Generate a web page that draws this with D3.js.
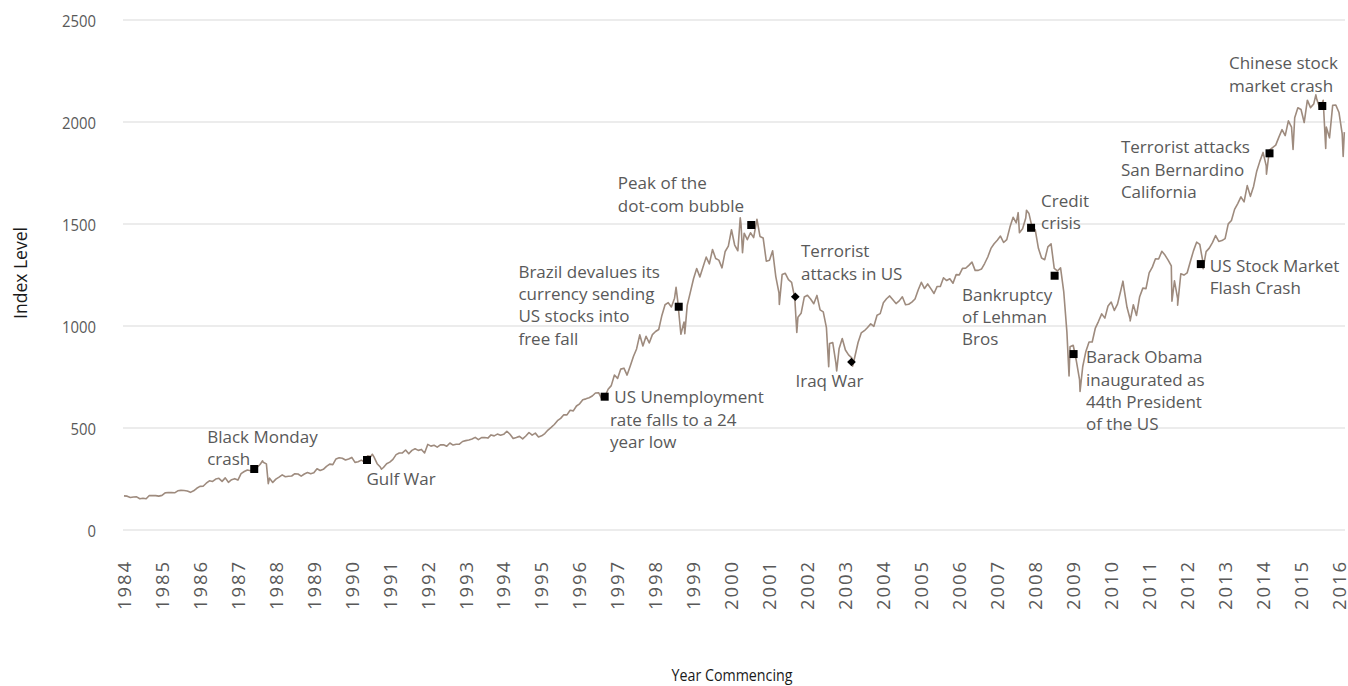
<!DOCTYPE html>
<html><head><meta charset="utf-8">
<script src="https://cdn.jsdelivr.net/npm/d3@7"></script>
<style>
html,body{margin:0;padding:0;background:#fff;}
svg{display:block;}
</style></head><body>
<svg id="chart" width="1348" height="686"></svg>
<script>
// ---------------- DATA ----------------
const startYear = 1984;
const startValue = 164.9;
// Monthly closing index level, Jan 1984 ... Jan 2016 (plotted at month end)
const monthlyClose = [
163.4,157.1,159.2,160.1,150.6,153.2,150.7,166.7,166.1,166.1,163.6,167.2,
179.6,181.2,180.7,179.8,189.6,191.9,190.9,188.6,182.1,189.8,202.2,211.3,
211.8,226.9,238.9,235.5,247.4,250.8,236.1,252.9,231.3,244.0,249.2,242.2,
274.1,284.2,291.7,288.4,290.1,304.0,318.7,329.8,321.8,251.8,230.3,247.1,
257.1,267.8,258.9,261.3,262.2,273.5,272.0,261.5,271.9,279.0,273.7,277.7,
297.5,288.9,294.9,309.6,320.5,318.0,346.1,351.5,349.2,340.4,346.0,353.4,
329.1,331.9,339.9,330.8,361.2,358.0,356.2,322.6,306.1,304.0,322.2,330.2,
343.9,367.1,375.2,375.3,389.8,371.2,387.8,395.4,387.9,392.5,375.2,417.1,
408.8,412.7,403.7,415.0,415.4,408.1,424.2,414.0,417.8,418.7,431.4,435.7,
438.8,443.4,451.7,440.2,450.2,451.0,448.1,463.6,458.9,467.8,461.8,466.5,
481.6,467.1,445.8,450.9,456.5,444.3,458.3,475.5,462.7,472.4,453.7,459.3,
470.4,487.4,500.7,514.7,533.4,544.8,562.1,561.9,584.4,581.5,605.4,615.9,
636.0,640.4,645.5,654.2,669.1,670.6,639.9,652.0,687.3,705.3,757.0,740.7,
786.2,790.8,757.1,801.3,848.3,885.1,954.3,899.5,947.3,914.6,955.4,970.4,
980.3,1049.3,1101.8,1111.8,1090.8,1133.8,1120.7,957.3,1017.0,1098.7,1163.6,1229.2,
1279.6,1238.3,1286.4,1335.2,1301.8,1372.7,1328.7,1320.4,1282.7,1362.9,1388.9,1469.3,
1394.5,1366.4,1498.6,1452.4,1420.6,1454.6,1430.8,1517.7,1436.5,1429.4,1315.2,1320.3,
1366.0,1239.9,1160.3,1249.5,1255.8,1224.4,1211.2,1133.6,1040.9,1059.8,1139.5,1148.1,
1130.2,1106.7,1147.4,1076.9,1067.1,989.8,911.6,916.1,815.3,885.8,936.3,879.8,
855.7,841.2,848.2,916.9,963.6,974.5,990.3,1008.0,996.0,1050.7,1058.2,1111.9,
1131.1,1144.9,1126.2,1107.3,1120.7,1140.8,1101.7,1104.2,1114.6,1130.2,1173.8,1211.9,
1181.3,1203.6,1180.6,1156.9,1191.5,1191.3,1234.2,1220.3,1228.8,1207.0,1249.5,1248.3,
1280.1,1280.7,1294.9,1310.6,1270.1,1270.2,1276.7,1303.8,1335.9,1377.9,1400.6,1418.3,
1438.2,1406.8,1420.9,1482.4,1530.6,1503.4,1455.3,1474.0,1526.8,1549.4,1481.1,1468.4,
1378.6,1330.6,1322.7,1385.6,1400.4,1280.0,1267.4,1282.8,1166.4,968.8,896.2,903.3,
825.9,735.1,797.9,872.8,919.1,919.3,987.5,1020.6,1057.1,1036.2,1095.6,1115.1,
1073.9,1104.5,1169.4,1186.7,1089.4,1030.7,1101.6,1049.3,1141.2,1183.3,1180.6,1257.6,
1286.1,1327.2,1325.8,1363.6,1345.2,1320.6,1292.3,1218.9,1131.4,1253.3,1247.0,1257.6,
1312.4,1365.7,1408.5,1397.9,1310.3,1362.2,1379.3,1406.6,1440.7,1412.2,1416.2,1426.2,
1498.1,1514.7,1569.2,1597.6,1630.7,1606.3,1685.7,1633.0,1681.6,1756.5,1805.8,1848.4,
1782.6,1859.5,1872.3,1884.0,1923.6,1960.2,1930.7,2003.4,1972.3,2018.1,2067.6,2058.9,
1995.0,2104.5,2067.9,2085.5,2107.4,2063.1,2103.8,1972.2,1920.0,2079.4,2080.4,2043.9,
1940.2
];
// Intra-month extremes visible as spikes (decimal year)
const spikeYears  = [1987.65,1987.80,1990.54,1990.78,1998.54,1998.77,2000.23,2000.29,2000.67,2001.26,2001.72,2002.56,2002.77,2003.19,2007.55,2007.77,2008.89,2009.18,2010.31,2010.50,2011.60,2011.75,2012.42,2014.09,2014.79,2015.39,2015.65,2016.11,2016.14];
const spikeValues = [336.8,224.8,368.9,295.5,1186.8,959.4,1527.5,1356.6,1520.8,1103.3,965.8,797.7,776.8,800.7,1553.1,1565.2,752.4,676.5,1217.3,1022.6,1119.5,1099.2,1278.0,1741.9,1862.5,2130.8,1867.6,1829.1,1948.0];

const yTicks = [0, 500, 1000, 1500, 2000, 2500];
const xTickYears = [1984,1985,1986,1987,1988,1989,1990,1991,1992,1993,1994,1995,1996,1997,1998,1999,2000,2001,2002,2003,2004,2005,2006,2007,2008,2009,2010,2011,2012,2013,2014,2015,2016];

const eventLabels = [
  ["Black Monday","crash"],
  ["Gulf War"],
  ["\u00a0US Unemployment","rate falls to a 24","year low"],
  ["Brazil devalues its","currency sending","US stocks into","free fall"],
  ["Peak of the","dot-com bubble"],
  ["Terrorist","attacks in US"],
  ["Iraq War"],
  ["Credit","crisis"],
  ["Bankruptcy","of Lehman","Bros"],
  ["Barack Obama","inaugurated as","44th President","of the US"],
  ["US Stock Market","Flash Crash"],
  ["Terrorist attacks","San Bernardino","California"],
  ["Chinese stock","market crash"]
];
const eventYears  = [1987.43,1990.40,1996.66,1998.61,2000.52,2001.68,2003.16,2007.89,2008.51,2009.01,2012.36,2014.17,2015.56];
const eventValues = [296.6,340.7,651,1092,1492.6,1141,821,1479,1244,860,1301,1844,2076];
const eventShapes = ["square","square","square","square","square","diamond","diamond","square","square","square","square","square","square"];

// layout: label offset (px) from marker to first baseline
const labelOffsets = [[-47,-26.3],[-0.6,25],[5.2,6.6],[-160.3,-29],[-133.4,-35.7],[5.7,-39.4],[-56,25.3],[10,-21],[-92.6,25],[12.4,9.3],[9,7.7],[-148.6,0],[-93.3,-36.7]];

// ---------------- BUILD ----------------
const series = [{t: startYear, v: startValue}];
monthlyClose.forEach((v, i) => series.push({t: startYear + (i + 1) / 12, v}));
spikeYears.forEach((t, i) => series.push({t, v: spikeValues[i]}));
series.sort((a, b) => a.t - b.t);

const svg = d3.select("#chart");
const x = d3.scaleLinear().domain([1984, 2016]).range([124, 1339]);
const y = d3.scaleLinear().domain([0, 2500]).range([529.5, 19.5]);
const gridLeft = 123, gridRight = 1345;
const textColor = "#595959";
const font = "'Open Sans', sans-serif";

// y axis + gridlines
const yAxis = svg.append("g")
  .attr("transform", `translate(${gridLeft},0)`)
  .call(d3.axisLeft(y).tickValues(yTicks).tickSize(-(gridRight - gridLeft)).tickPadding(27).tickFormat(d3.format("d")));
yAxis.select(".domain").remove();
yAxis.selectAll(".tick line").attr("stroke", "#d9d9d9").attr("stroke-width", 1);
yAxis.selectAll(".tick text")
  .attr("font-family", font).attr("font-size", 17).attr("fill", textColor)
  .attr("dy", "0.42em")
  .attr("textLength", d => String(d).length * 8.5)
  .attr("lengthAdjust", "spacingAndGlyphs");

// x axis labels
const xAxis = svg.append("g")
  .attr("transform", `translate(0,562)`)
  .call(d3.axisBottom(x).tickValues(xTickYears).tickSize(0).tickFormat(d3.format("d")));
xAxis.select(".domain").remove();
xAxis.selectAll(".tick text")
  .attr("font-family", font).attr("font-size", 18.5).attr("fill", textColor)
  .attr("transform", "rotate(-90)")
  .attr("x", 0).attr("y", 0).attr("dy", "0.34em")
  .attr("text-anchor", "end")
  .attr("textLength", 48).attr("lengthAdjust", "spacing");

// axis titles
svg.append("text")
  .attr("transform", "translate(26.5,273) rotate(-90)")
  .attr("text-anchor", "middle")
  .attr("font-family", font).attr("font-size", 17.5).attr("fill", "#1a1a1a")
  .text("Index Level");
svg.append("text")
  .attr("x", 732).attr("y", 680.5)
  .attr("text-anchor", "middle")
  .attr("font-family", font).attr("font-size", 16.5).attr("fill", "#1a1a1a")
  .attr("textLength", 121).attr("lengthAdjust", "spacingAndGlyphs")
  .text("Year Commencing");

// line
const line = d3.line().x(d => x(d.t)).y(d => y(d.v));
svg.append("path")
  .datum(series)
  .attr("d", line)
  .attr("fill", "none")
  .attr("stroke", "#9e8b7e")
  .attr("stroke-width", 1.6)
  .attr("stroke-linejoin", "round");

// events
const ev = svg.append("g");
eventYears.forEach((yr, i) => {
  const mx = x(yr), my = y(eventValues[i]);
  if (eventShapes[i] === "square") {
    ev.append("path").attr("d", d3.symbol(d3.symbolSquare, 64)())
      .attr("transform", `translate(${mx},${my})`).attr("fill", "#000");
  } else {
    ev.append("path").attr("d", d3.symbol(d3.symbolSquare, 38)())
      .attr("transform", `translate(${mx},${my}) rotate(45)`).attr("fill", "#000");
  }
  const [dx, dy] = labelOffsets[i];
  const t = ev.append("text")
    .attr("font-family", font).attr("font-size", 17).attr("fill", textColor)
    .style("white-space", "pre");
  eventLabels[i].forEach((ln, j) => {
    t.append("tspan").attr("x", mx + dx).attr("y", my + dy + j * 22.3).text(ln);
  });
});
</script>
</body></html>
